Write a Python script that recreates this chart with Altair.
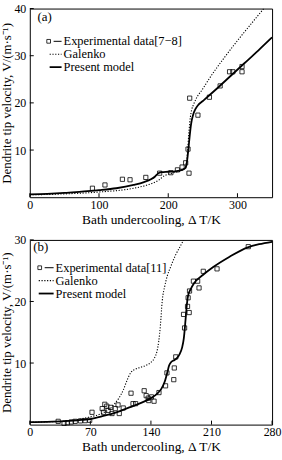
import altair as alt
import pandas as pd

FONT = "Liberation Serif"

# ---------------- Panel (a) data ----------------
exp_a_x = [90.5, 108.6, 133.8, 144.8, 167.6, 187.6, 203.8, 213.3, 220, 225.2, 228.6, 230, 231, 242.9, 259.5, 275, 288.6, 293.3, 306.6, 306.6]
exp_a_y = [1.9, 2.6, 3.8, 3.7, 4.2, 5.1, 5.2, 5.8, 6.4, 7.3, 10.2, 5.1, 21.0, 17.4, 21.2, 23.6, 26.6, 26.6, 27.7, 26.6]

model_a_x = [0, 25, 50, 75, 100, 125, 150, 165, 175, 181, 185, 190, 200, 210, 220, 225, 227, 229, 231, 233, 236, 239, 243, 250, 270, 290, 310, 330, 350]
model_a_y = [0.6, 0.7, 0.9, 1.2, 1.5, 1.9, 2.6, 3.2, 3.8, 4.4, 5.0, 5.3, 5.4, 5.5, 5.8, 6.2, 7.5, 10, 13, 15.5, 17.5, 18.6, 19.5, 20.4, 23.0, 25.7, 28.4, 31.1, 33.9]

galenko_a_x = [0, 50, 100, 150, 170, 185, 195, 205, 215, 222, 226, 228, 230, 232, 234, 237, 240, 250, 260, 280, 300, 320, 338]
galenko_a_y = [0.5, 0.7, 1.1, 1.9, 2.6, 3.5, 4.6, 5.1, 5.5, 5.9, 7, 10, 14, 17, 18.6, 19.8, 20.8, 23, 25.3, 29.4, 33.2, 36.8, 40]

# ---------------- Panel (b) data ----------------
exp_b_x = [32.8, 39.6, 43.5, 48, 52.5, 58.6, 63.9, 69.2, 71.9, 83.7, 85.2, 86.7, 89, 90.5, 93.5, 95, 98.8, 102, 103.4, 108,
           117, 119.3, 122.3, 132.2, 134.5, 136.8, 137.5, 140.6, 143.6, 149.3, 156.9, 158.5, 166.4, 167, 168.7,
           177.7, 178.9, 182.3, 183, 184.2, 184.6, 189.1, 194, 195.6, 200.5, 216.4, 252.5]
exp_b_y = [0.53, 0.2, 0.3, 0.43, 0.53, 0.6, 0.64, 0.7, 2.0, 2.6, 2.0, 3.3, 3.0, 2.3, 2.8, 1.8, 2.6, 3.2, 1.8, 2.7,
           5.1, 3.4, 3.4, 5.5, 4.7, 4.3, 3.9, 4.5, 3.8, 5.2, 6.3, 8.4, 7.3, 9.2, 11.0,
           17.9, 15.7, 19.2, 20.6, 18.2, 21.7, 23.3, 23.3, 22.2, 24.9, 25.3, 28.9]

model_b_x = [0, 20, 40, 60, 70, 85, 100, 115, 130, 140, 147, 152, 156, 159, 161, 163, 166, 170, 173, 176, 178, 180, 181.5, 183, 186, 190, 200, 212, 230, 252, 265, 280]
model_b_y = [0.4, 0.45, 0.55, 0.75, 0.9, 1.4, 2.0, 2.8, 3.6, 4.3, 5.0, 5.8, 7.0, 8.5, 9.6, 10.1, 10.4, 10.8, 11.4, 12.5, 14.0, 17.0, 19.5, 21.0, 22.0, 23.0, 24.3, 25.6, 27.2, 28.8, 29.3, 29.7]

galenko_b_x = [0, 30, 50, 68, 83, 92, 98, 103, 108, 113, 117, 122, 128, 134, 140, 144, 147, 149, 151, 153, 156, 159, 163, 168, 174, 179]
galenko_b_y = [0.4, 0.5, 0.7, 1.2, 1.8, 2.5, 3.4, 4.3, 5.6, 7.4, 8.5, 9.0, 9.3, 9.6, 10.1, 10.8, 11.9, 13.5, 16.2, 20, 22.5, 24.2, 25.7, 27.4, 29.0, 30.3]

# ---------------- Axis settings ----------------
x_ticks_a = [0, 100, 200, 300]
y_ticks_a = [10, 20, 30, 40]
x_ticks_b = [0, 70, 140, 210, 280]
y_ticks_b = [10, 20, 30]

X_TITLE = "Bath undercooling,  \u0394 T/K"
Y_TITLE = "Dendrite tip velocity, V/(m\u00b7s\u207b\u00b9)"

W = 244


def panel(exp_x, exp_y, mod_x, mod_y, gal_x, gal_y, xmax, ymax, xt, yt, H,
          tag, tag_pos, exp_label, leg):
    xs = alt.Scale(domain=[0, xmax], nice=False, zero=False)
    ys = alt.Scale(domain=[0, ymax], nice=False, zero=False)
    xaxis = alt.Axis(values=xt, title=X_TITLE, ticks=False, domain=False, grid=False,
                     labelPadding=2, titlePadding=2, labelFont=FONT, titleFont=FONT,
                     labelFontSize=12, titleFontSize=13.5, titleFontWeight="normal",
                     labelColor="black", titleColor="black", labelFlush=False, labelOverlap=False)
    yaxis = alt.Axis(values=yt, title=Y_TITLE, ticks=False, domain=False, grid=False,
                     labelPadding=4, titlePadding=0, labelFont=FONT, titleFont=FONT,
                     labelFontSize=12, titleFontSize=13, titleFontWeight="normal",
                     labelColor="black", titleColor="black", labelFlush=False)

    exp_df = pd.DataFrame({"x": exp_x, "y": exp_y})
    mod_df = pd.DataFrame({"x": mod_x, "y": mod_y})
    gal_df = pd.DataFrame({"x": gal_x, "y": gal_y})

    model = alt.Chart(mod_df).mark_line(color="black", strokeWidth=1.8, interpolate="monotone", clip=True).encode(
        x=alt.X("x:Q", scale=xs, axis=xaxis), y=alt.Y("y:Q", scale=ys, axis=yaxis))
    gal = alt.Chart(gal_df).mark_line(color="black", strokeWidth=1.1, strokeDash=[1.2, 1.6],
                                      interpolate="monotone", clip=True).encode(
        x=alt.X("x:Q", scale=xs), y=alt.Y("y:Q", scale=ys))
    pts = alt.Chart(exp_df).mark_point(shape="square", filled=False, size=18, color="black",
                                      strokeWidth=0.8, opacity=1).encode(
        x=alt.X("x:Q", scale=xs), y=alt.Y("y:Q", scale=ys))

    xtick_df = pd.DataFrame({"t": xt})
    ytick_df = pd.DataFrame({"t": yt})
    xticks = alt.Chart(xtick_df).mark_rule(color="black", strokeWidth=1).encode(
        x=alt.X("t:Q", scale=xs), y=alt.value(H), y2=alt.value(H - 4))
    yticks = alt.Chart(ytick_df).mark_rule(color="black", strokeWidth=1).encode(
        y=alt.Y("t:Q", scale=ys), x=alt.value(0), x2=alt.value(4))

    one = pd.DataFrame({"a": [0]})
    tag_txt = alt.Chart(one).mark_text(font=FONT, fontSize=13, color="black", align="center",
                                       baseline="middle").encode(
        x=alt.value(tag_pos[0]), y=alt.value(tag_pos[1]), text=alt.value(tag))

    sq_x, line_x0, line_x1, txt_x, rows = leg
    layers = [model, gal, pts, xticks, yticks, tag_txt]
    layers.append(alt.Chart(one).mark_point(shape="square", filled=False, size=14, color="black",
                                            strokeWidth=0.8, opacity=1).encode(
        x=alt.value(sq_x), y=alt.value(rows[0])))
    layers.append(alt.Chart(one).mark_rule(color="black", strokeWidth=1).encode(
        x=alt.value(sq_x + 5), x2=alt.value(line_x1), y=alt.value(rows[0])))
    layers.append(alt.Chart(one).mark_rule(color="black", strokeWidth=1.1, strokeDash=[1.2, 1.6]).encode(
        x=alt.value(line_x0), x2=alt.value(line_x1), y=alt.value(rows[1])))
    layers.append(alt.Chart(one).mark_rule(color="black", strokeWidth=1.8).encode(
        x=alt.value(line_x0), x2=alt.value(line_x1), y=alt.value(rows[2])))
    for lbl, ry in zip([exp_label, "Galenko", "Present model"], rows):
        layers.append(alt.Chart(one).mark_text(font=FONT, fontSize=12.5, color="black", align="left",
                                               baseline="middle").encode(
            x=alt.value(txt_x), y=alt.value(ry), text=alt.value(lbl)))

    return alt.layer(*layers).properties(width=W, height=H)


top = panel(exp_a_x, exp_a_y, model_a_x, model_a_y, galenko_a_x, galenko_a_y,
            350, 40, x_ticks_a, y_ticks_a, 190, "(a)", (15, 9), "Experimental data[7\u22128]",
            (19, 20, 32, 34, [33, 46, 59]))
bottom = panel(exp_b_x, exp_b_y, model_b_x, model_b_y, galenko_b_x, galenko_b_y,
               280, 30, x_ticks_b, y_ticks_b, 186, "(b)", (11, 7), "Experimental data[11]",
               (10, 9, 24, 26, [28, 41, 54]))

chart = alt.vconcat(top, bottom, spacing=43, bounds="flush").configure_view(
    stroke="black", strokeWidth=1
).properties(padding={"left": 0, "top": 0, "right": 0, "bottom": 0}, background="white")

chart.save("out.html", embed_options={"renderer": "svg", "actions": False})
